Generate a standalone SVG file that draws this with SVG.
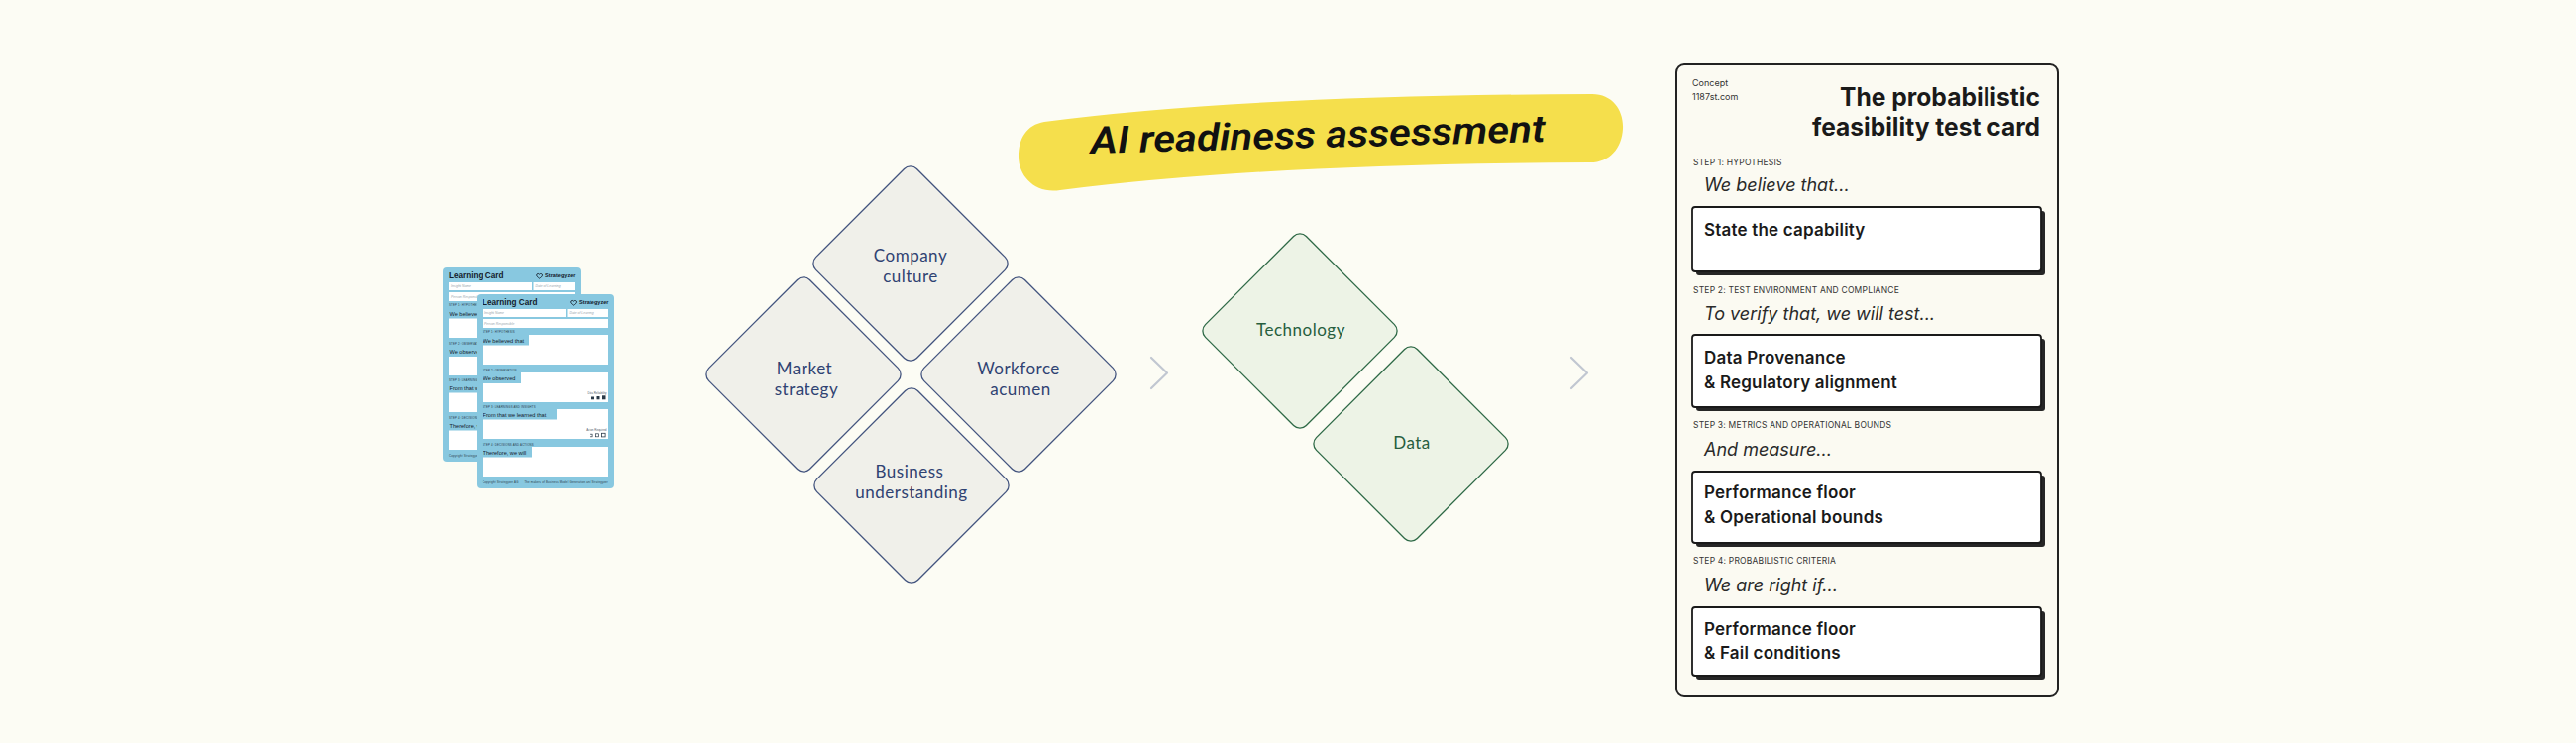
<svg xmlns="http://www.w3.org/2000/svg" width="2600" height="750" viewBox="0 0 2600 750">
<style>
.dlab{font-family:Lato,"Open Sans",sans-serif;font-size:17px;letter-spacing:0.5px;text-anchor:middle}
.blue{fill:#2f4272}
.green{fill:#275e3e}
.dB{fill:#f0f0ea;stroke:#44557f;stroke-width:1.3}
.dG{fill:#edf3e6;stroke:#2f6a47;stroke-width:1.3}
.chev{fill:none;stroke:#c1c7d1;stroke-width:2.2;stroke-linecap:round;stroke-linejoin:round}
.tc{font-family:Inter,"Noto Sans",sans-serif;fill:#1a1a1a}
.title{font-size:25px;font-weight:700;text-anchor:end}
.small{font-size:9px;fill:#333}
.step{font-size:8.5px;fill:#333;letter-spacing:0.2px}
.ital{font-size:18px;font-style:italic;font-weight:400;fill:#2a2a2a}
.bt{font-size:17px;font-weight:600;letter-spacing:0.2px}
.shadow{fill:#262626}
.box{fill:#fff;stroke:#1a1a1a;stroke-width:1.8}
.lcF{font-family:"Liberation Sans",Arial,sans-serif}
.lcT{font-size:8.2px;font-weight:700;fill:#14202c}
.lcS{font-size:5.6px;font-weight:700;fill:#14202c}
.lcP{font-size:3.4px;font-style:italic;fill:#9aa6ae}
.lcStep{font-size:2.8px;fill:#2a3a48;letter-spacing:0.2px}
.lcL{font-size:5.6px;fill:#14202c}
.lcX{font-size:3px;fill:#55636e}
.lcW{fill:#fff}
.lcB{fill:#88c8e0}
</style>
<defs>
<rect id="dia" x="-72" y="-72" width="144" height="144" rx="9" transform="rotate(45)"/>
<g id="lcard" class="lcF">
<rect width="139" height="196" rx="4" class="lcB"/>
<text x="6" y="10.5" class="lcT">Learning Card</text>
<path d="M97.6,7.2 c-0.9,-1.3 -2.9,-0.8 -2.9,0.7 c0,1.3 1.6,2.3 2.9,3.3 c1.3,-1 2.9,-2 2.9,-3.3 c0,-1.5 -2,-2 -2.9,-0.7z" fill="none" stroke="#14202c" stroke-width="0.9"/>
<text x="133.5" y="10.3" class="lcS" text-anchor="end">Strategyzer</text>
<rect x="6" y="15" width="84" height="8" class="lcW"/>
<rect x="91.5" y="15" width="41.5" height="8" class="lcW"/>
<rect x="6" y="25" width="127" height="9" class="lcW"/>
<text x="8" y="20.3" class="lcP">Insight Name</text>
<text x="93.5" y="20.3" class="lcP">Date of Learning</text>
<text x="8" y="30.8" class="lcP">Person Responsible</text>
<text x="6" y="39.4" class="lcStep">STEP 1: HYPOTHESIS</text>
<rect x="6" y="41" width="127" height="30" class="lcW"/>
<rect x="6" y="41" width="47" height="10.5" class="lcB"/>
<text x="6.5" y="49" class="lcL">We believed that</text>
<text x="6" y="77.6" class="lcStep">STEP 2: OBSERVATION</text>
<rect x="6" y="79" width="127" height="30" class="lcW"/>
<rect x="6" y="79" width="39" height="11" class="lcB"/>
<text x="6.5" y="87.4" class="lcL">We observed</text>
<text x="131.5" y="100.5" class="lcX" text-anchor="end">Data Reliability</text>
<rect x="116" y="103.5" width="3" height="2.8" fill="#2a3a48"/>
<rect x="121.5" y="103" width="3" height="3.3" fill="#2a3a48"/>
<rect x="127" y="102.3" width="3.5" height="4" fill="#2a3a48"/>
<text x="6" y="114.6" class="lcStep">STEP 3: LEARNINGS AND INSIGHTS</text>
<rect x="6" y="116" width="127" height="30" class="lcW"/>
<rect x="6" y="116" width="75" height="10.5" class="lcB"/>
<text x="6.5" y="124.2" class="lcL">From that we learned that</text>
<text x="131.5" y="137.8" class="lcX" text-anchor="end">Action Required</text>
<rect x="114.5" y="141.2" width="2.6" height="2.6" fill="none" stroke="#2a3a48" stroke-width="0.7"/>
<rect x="120.5" y="140.8" width="3" height="3" fill="none" stroke="#2a3a48" stroke-width="0.7"/>
<rect x="126.5" y="140.3" width="3.6" height="3.6" fill="none" stroke="#2a3a48" stroke-width="0.8"/>
<text x="6" y="152.6" class="lcStep">STEP 4: DECISIONS AND ACTIONS</text>
<rect x="6" y="154" width="127" height="30" class="lcW"/>
<rect x="6" y="154" width="50" height="10.5" class="lcB"/>
<text x="6.5" y="162.2" class="lcL">Therefore, we will</text>
<text x="6" y="190.5" class="lcStep" font-size="2.4">Copyright Strategyzer AG</text>
<text x="133" y="190.5" class="lcStep" font-size="2.4" text-anchor="end">The makers of Business Model Generation and Strategyzer</text>
</g>
</defs>

<rect width="2600" height="750" fill="#fcfcf4"/>

<g id="learning-cards">
<use href="#lcard" transform="translate(447,270)"/>
<use href="#lcard" transform="translate(481,297)"/>
</g>

<g id="company-culture">
<use href="#dia" class="dB" transform="translate(919,266)"/>
<text class="dlab blue" x="919" y="264">Company</text>
<text class="dlab blue" x="919" y="285">culture</text>
</g>
<g id="market-strategy">
<use href="#dia" class="dB" transform="translate(811,378)"/>
<text class="dlab blue" x="812" y="378">Market</text>
<text class="dlab blue" x="814" y="399">strategy</text>
</g>
<g id="workforce-acumen">
<use href="#dia" class="dB" transform="translate(1028,378)"/>
<text class="dlab blue" x="1028" y="378">Workforce</text>
<text class="dlab blue" x="1030" y="399">acumen</text>
</g>
<g id="business-understanding">
<use href="#dia" class="dB" transform="translate(920,490)"/>
<text class="dlab blue" x="918" y="482">Business</text>
<text class="dlab blue" x="920" y="503">understanding</text>
</g>

<g id="technology">
<use href="#dia" class="dG" transform="translate(1312,334)"/>
<text class="dlab green" x="1313" y="339">Technology</text>
</g>
<g id="data">
<use href="#dia" class="dG" transform="translate(1424,448)"/>
<text class="dlab green" x="1425" y="453">Data</text>
</g>

<g id="connectors">
<path class="chev" d="M1162,361 L1178,376.5 L1162,392"/>
<path class="chev" d="M1586,361 L1602,376.5 L1586,392"/>
</g>

<g id="banner">
<path d="M1054,123 Q1260,96 1607,95 C1628,95 1639,112 1638,130 C1637,150 1624,165 1603,164 Q1280,165 1070,192 C1045,196 1028,178 1028,158 C1028,140 1036,126 1054,123 Z" fill="#f5df4c"/>
<text x="1101" y="155" transform="rotate(-1.5 1101 155)" textLength="459" lengthAdjust="spacingAndGlyphs" font-family="Roboto,'Liberation Sans',sans-serif" font-size="38" font-style="italic" font-weight="600" fill="#111">AI readiness assessment</text>
</g>

<g id="test-card" class="tc">
<rect x="1692" y="65" width="385" height="638" rx="8" fill="#fbfaf2" stroke="#222" stroke-width="2"/>
<text x="1708" y="87" class="tc small">Concept</text>
<text x="1708" y="101" class="tc small">1187st.com</text>
<text x="2059" y="107" class="tc title" textLength="202" lengthAdjust="spacingAndGlyphs">The probabilistic</text>
<text x="2059" y="137" class="tc title" textLength="230" lengthAdjust="spacingAndGlyphs">feasibility test card</text>

<text x="1709" y="167" class="tc step">STEP 1: HYPOTHESIS</text>
<text x="1720" y="193" class="tc ital">We believe that...</text>
<rect x="1712" y="213" width="352" height="65" rx="3" class="shadow"/>
<rect x="1708" y="209" width="352" height="65" rx="3" class="box"/>
<text x="1720" y="238" class="tc bt">State the capability</text>

<text x="1709" y="296" class="tc step">STEP 2: TEST ENVIRONMENT AND COMPLIANCE</text>
<text x="1720" y="323" class="tc ital">To verify that, we will test...</text>
<rect x="1712" y="342" width="352" height="73" rx="3" class="shadow"/>
<rect x="1708" y="338" width="352" height="73" rx="3" class="box"/>
<text x="1720" y="367" class="tc bt">Data Provenance</text>
<text x="1720" y="392" class="tc bt">&amp; Regulatory alignment</text>

<text x="1709" y="432" class="tc step">STEP 3: METRICS AND OPERATIONAL BOUNDS</text>
<text x="1720" y="460" class="tc ital">And measure...</text>
<rect x="1712" y="480" width="352" height="72" rx="3" class="shadow"/>
<rect x="1708" y="476" width="352" height="72" rx="3" class="box"/>
<text x="1720" y="503" class="tc bt">Performance floor</text>
<text x="1720" y="528" class="tc bt">&amp; Operational bounds</text>

<text x="1709" y="569" class="tc step">STEP 4: PROBABILISTIC CRITERIA</text>
<text x="1720" y="597" class="tc ital">We are right if...</text>
<rect x="1712" y="617" width="352" height="69" rx="3" class="shadow"/>
<rect x="1708" y="613" width="352" height="69" rx="3" class="box"/>
<text x="1720" y="641" class="tc bt">Performance floor</text>
<text x="1720" y="665" class="tc bt">&amp; Fail conditions</text>
</g>
</svg>
